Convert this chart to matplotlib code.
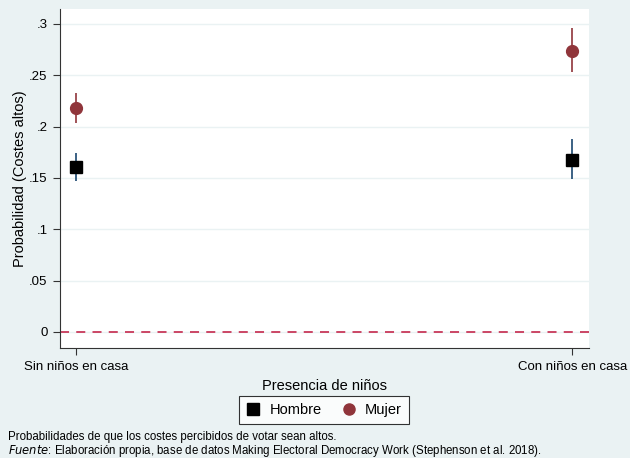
#!/usr/bin/env python3

import matplotlib
matplotlib.use("Agg")
import matplotlib.pyplot as plt
from matplotlib.lines import Line2D

plt.rcParams["font.family"] = ["Liberation Sans", "DejaVu Sans"]

# data
categories = ["Sin niños en casa", "Con niños en casa"]
hombre = [0.161, 0.168]
hombre_lo = [0.147, 0.149]
hombre_hi = [0.174, 0.188]
mujer = [0.218, 0.274]
mujer_lo = [0.204, 0.253]
mujer_hi = [0.233, 0.296]
yticks = [0, 0.05, 0.1, 0.15, 0.2, 0.25, 0.3]
ytick_labels = ["0", ".05", ".1", ".15", ".2", ".25", ".3"]

BG = "#eaf2f3"
NAVY = "#1a476f"
MAROON = "#90353b"
ZERO = "#c8385a"

fig = plt.figure(figsize=(6.3, 4.58), dpi=100, facecolor=BG)
ax = fig.add_axes([60 / 630, 1 - 348 / 458, 529 / 630, 339 / 458])
ax.set_facecolor("white")

x = list(range(len(categories)))

for yt in yticks:
    ax.axhline(yt, color=BG, lw=1.0, zorder=0)
ax.axhline(0, color=ZERO, lw=1.3, ls=(0, (5, 4)), zorder=1)

ax.vlines(x, hombre_lo, hombre_hi, color=NAVY, lw=1.2, zorder=2)
ax.vlines(x, mujer_lo, mujer_hi, color=MAROON, lw=1.2, zorder=2)
ax.plot(x, hombre, ls="none", marker="s", ms=9, color="black", zorder=3)
ax.plot(x, mujer, ls="none", marker="o", ms=8.5, color=MAROON, zorder=3)

ax.set_xlim(-0.032, 1.034)
ax.set_ylim(-0.0156, 0.3146)
ax.set_xticks(x)
ax.set_xticklabels(categories, fontsize=9.5)
ax.set_yticks(yticks)
ax.set_yticklabels(ytick_labels, fontsize=9.5)
ax.tick_params(direction="out", length=5, width=0.8, colors="#333333", labelcolor="black", pad=4)

for side in ["top", "right"]:
    ax.spines[side].set_visible(False)
for side in ["left", "bottom"]:
    ax.spines[side].set_color("#333333")
    ax.spines[side].set_linewidth(0.8)

ax.set_xlabel("Presencia de niños", fontsize=10.5, labelpad=5)
ax.set_ylabel("Probabilidad (Costes altos)", fontsize=10.5, labelpad=1.5)

handles = [
    Line2D([], [], ls="none", marker="s", ms=8, color="black"),
    Line2D([], [], ls="none", marker="o", ms=8, color=MAROON),
]
leg = fig.legend(handles, ["Hombre", "Mujer"], loc="center", bbox_to_anchor=(324 / 630, 1 - 410 / 458),
                 ncol=2, frameon=True, fancybox=False, fontsize=10.5, handletextpad=0.6,
                 columnspacing=1.4, borderpad=0.45, handlelength=1.0)
leg.get_frame().set_edgecolor("black")
leg.get_frame().set_linewidth(0.8)

fig.text(8 / 630, 1 - 437 / 458, "Probabilidades de que los costes percibidos de votar sean altos.",
         fontsize=8.3, va="center", ha="left")
fig.text(8 / 630, 1 - 451 / 458, r"$\it{Fuente}$: Elaboración propia, base de datos Making Electoral Democracy Work (Stephenson et al. 2018).",
         fontsize=8.3, va="center", ha="left")

fig.savefig("out.png", dpi=100, facecolor=BG)
